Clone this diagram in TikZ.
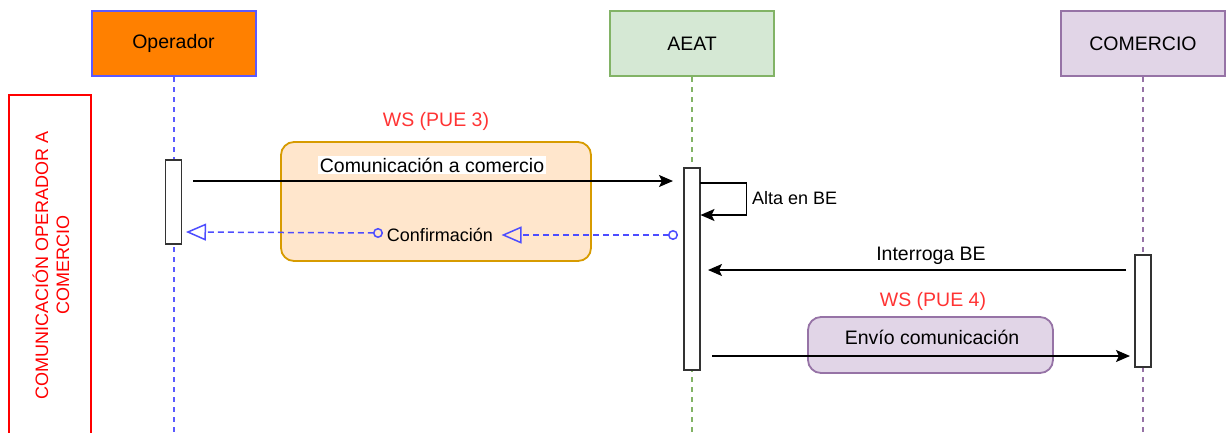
\documentclass[tikz,border=0pt]{standalone}
\usepackage{fontspec}
\setmainfont{Liberation Sans}
\usetikzlibrary{arrows.meta,calc}
\definecolor{opfill}{HTML}{FF8000}
\definecolor{opdraw}{HTML}{5A5AFF}
\definecolor{aedraw}{HTML}{82B366}
\definecolor{aefill}{HTML}{D5E8D4}
\definecolor{cofill}{HTML}{E1D5E7}
\definecolor{codraw}{HTML}{9673A6}
\definecolor{orfill}{HTML}{FFE6CC}
\definecolor{ordraw}{HTML}{D79B00}
\definecolor{wsred}{HTML}{FF3333}
\definecolor{confblue}{HTML}{4D4DFF}
\definecolor{actdraw}{HTML}{333333}
\tikzset{
  bigfont/.style={font=\fontsize{19.5}{23}\selectfont},
  smallfont/.style={font=\fontsize{18}{21}\selectfont},
  participant/.style={draw, line width=2pt, minimum width=164pt, minimum height=65pt, inner sep=0pt, bigfont},
  actbox/.style={draw=actdraw, fill=white, line width=1.4pt, minimum width=16pt, inner sep=0pt},
  lifeline/.style={line width=2pt, dash pattern=on 4.5pt off 5.5pt},
  wsbox/.style={rounded corners=13pt, line width=1.8pt, inner sep=0pt},
  wslabel/.style={text=wsred, bigfont, inner sep=1pt},
  msg/.style={line width=1.4pt, -{Stealth[length=14pt,width=12pt,inset=3pt]}},
  conf/.style={confblue, line width=1.5pt, dash pattern=on 6pt off 4pt,
     {Circle[open,length=10pt,width=10pt]}-{Triangle[open,length=20pt,width=17pt]}},
}
\begin{document}
\begin{tikzpicture}[x=1pt,y=-1pt]
\useasboundingbox (0,0) rectangle (1226,432);

% participants
\node[participant, draw=opdraw, fill=opfill] (op) at (173.5,43.5) {Operador};
\node[participant, draw=aedraw, fill=aefill] (ae) at (692,43.5) {AEAT};
\node[participant, draw=codraw, fill=cofill] (co) at (1143,43.5) {COMERCIO};

\coordinate (opend) at (173.5,440);
\coordinate (aeend) at (692,440);
\coordinate (coend) at (1143,440);
\draw[lifeline, draw=opdraw] (op.south) -- (opend);
\draw[lifeline, draw=aedraw] (ae.south) -- (aeend);
\draw[lifeline, draw=codraw] (co.south) -- (coend);

% red frame
\draw[red, line width=1.5pt] (9,445) |- (91,95) -- (91,445);
\node[red, smallfont, rotate=90, align=center, inner sep=0pt] (frame) at (51,265)
  {COMUNICACIÓN OPERADOR A\\COMERCIO};

% WS boxes
\node[wsbox, draw=ordraw, fill=orfill, minimum width=310pt, minimum height=119pt] (ws3) at (436,201.5) {};
\node[wslabel] (ws3l) at (436,121) {WS (PUE 3)};
\node[wsbox, draw=codraw, fill=cofill, minimum width=245pt, minimum height=56pt] (ws4) at (930.5,345) {};
\node[wslabel] (ws4l) at (933,301) {WS (PUE 4)};

% activations
\node[actbox, minimum height=84pt] (opact) at (173.5,202) {};
\node[actbox, minimum height=202pt] (aeact) at (692,269) {};
\node[actbox, minimum height=112pt] (coact) at (1143,311) {};

% Comunicación a comercio
\coordinate (m1s) at (193,181);
\coordinate (m1e) at (673,181);
\draw[msg] (m1s) -- (m1e);
\node[fill=white, bigfont, inner sep=2pt] (m1l) at (432,165) {Comunicación a comercio};

% Alta en BE
\coordinate (s1a) at (700,183);
\coordinate (s1r) at (746.5,183);
\coordinate (s1d) at (746.5,215);
\coordinate (s1b) at (700.5,215);
\draw[line width=1.4pt, -{Stealth[length=14pt,width=12pt,inset=3pt]}] (s1a) -- (s1r) -- (s1d) -- (s1b);
\node[smallfont, anchor=west, inner sep=0pt] (s1l) at (752,198) {Alta en BE};

% Confirmación
\coordinate (c1s) at (678,235);
\coordinate (c1e) at (501.5,235);
\coordinate (c2s) at (383,233);
\coordinate (c2e) at (186,232);
\draw[conf] (c1s) -- (c1e);
\draw[conf] (c2s) -- (c2e);
\node[smallfont, inner sep=0pt] (cl) at (440,235) {Confirmación};

% Interroga BE
\coordinate (m2s) at (1126,270);
\coordinate (m2e) at (708,270);
\draw[msg] (m2s) -- (m2e);
\node[bigfont, inner sep=0pt] (m2l) at (931,256) {Interroga BE};

% Envío comunicación
\coordinate (m3s) at (712,356);
\coordinate (m3e) at (1130,356);
\draw[msg] (m3s) -- (m3e);
\node[bigfont, inner sep=0pt] (m3l) at (932,337) {Envío comunicación};
\end{tikzpicture}
\end{document}
